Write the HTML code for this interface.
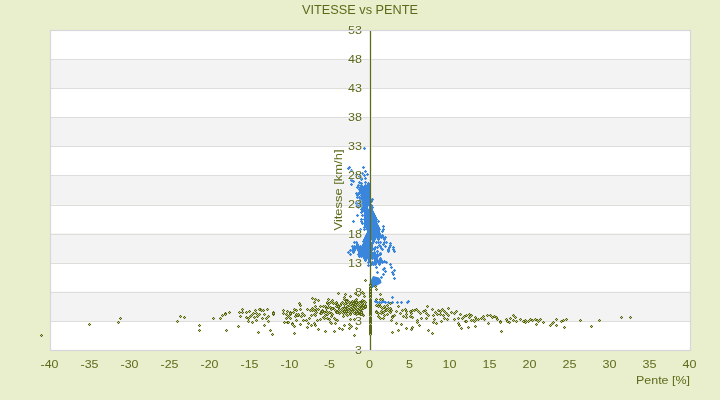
<!DOCTYPE html>
<html><head><meta charset="utf-8"><style>
html,body{margin:0;padding:0;background:#e9efcc;width:720px;height:400px;overflow:hidden}
svg{display:block;will-change:transform}
text{font-family:"Liberation Sans",sans-serif;fill:#5d6a1b}
</style></head><body>
<svg width="720" height="400" viewBox="0 0 720 400">
<defs>
<g id="o"><rect x="-1" y="-1" width="3" height="3" fill="#6b7a2a" opacity="0.16"/><rect x="0" y="-1" width="1" height="3" fill="#56641a"/><rect x="-1" y="0" width="3" height="1" fill="#56641a"/><rect x="0" y="0" width="1" height="1" fill="#bdd06a"/></g>
<g id="b"><rect x="-1" y="-1" width="3" height="3" fill="#3a86dc" opacity="0.18"/><rect x="0" y="-1" width="1" height="3" fill="#3a86dc"/><rect x="-1" y="0" width="3" height="1" fill="#3a86dc"/></g>
</defs>
<rect width="720" height="400" fill="#e9efcc"/>
<rect x="50" y="30.00" width="641" height="29.09" fill="#ffffff"/><rect x="50" y="59.09" width="641" height="29.09" fill="#f3f3f3"/><rect x="50" y="88.18" width="641" height="29.09" fill="#ffffff"/><rect x="50" y="117.27" width="641" height="29.09" fill="#f3f3f3"/><rect x="50" y="146.36" width="641" height="29.09" fill="#ffffff"/><rect x="50" y="175.45" width="641" height="29.09" fill="#f3f3f3"/><rect x="50" y="204.55" width="641" height="29.09" fill="#ffffff"/><rect x="50" y="233.64" width="641" height="29.09" fill="#f3f3f3"/><rect x="50" y="262.73" width="641" height="29.09" fill="#ffffff"/><rect x="50" y="291.82" width="641" height="29.09" fill="#f3f3f3"/><rect x="50" y="320.91" width="641" height="29.09" fill="#ffffff"/><line x1="50" y1="59.5" x2="690" y2="59.5" stroke="#dddddd" stroke-width="1"/><line x1="50" y1="88.5" x2="690" y2="88.5" stroke="#dddddd" stroke-width="1"/><line x1="50" y1="117.5" x2="690" y2="117.5" stroke="#dddddd" stroke-width="1"/><line x1="50" y1="146.5" x2="690" y2="146.5" stroke="#dddddd" stroke-width="1"/><line x1="50" y1="175.5" x2="690" y2="175.5" stroke="#dddddd" stroke-width="1"/><line x1="50" y1="205.5" x2="690" y2="205.5" stroke="#dddddd" stroke-width="1"/><line x1="50" y1="234.5" x2="690" y2="234.5" stroke="#dddddd" stroke-width="1"/><line x1="50" y1="263.5" x2="690" y2="263.5" stroke="#dddddd" stroke-width="1"/><line x1="50" y1="292.5" x2="690" y2="292.5" stroke="#dddddd" stroke-width="1"/><line x1="50" y1="321.5" x2="690" y2="321.5" stroke="#dddddd" stroke-width="1"/>
<g font-size="11px"><text x="49.5" y="368" text-anchor="middle" textLength="17.97" lengthAdjust="spacingAndGlyphs">-40</text><text x="89.5" y="368" text-anchor="middle" textLength="17.97" lengthAdjust="spacingAndGlyphs">-35</text><text x="129.5" y="368" text-anchor="middle" textLength="17.97" lengthAdjust="spacingAndGlyphs">-30</text><text x="169.5" y="368" text-anchor="middle" textLength="17.97" lengthAdjust="spacingAndGlyphs">-25</text><text x="209.5" y="368" text-anchor="middle" textLength="17.97" lengthAdjust="spacingAndGlyphs">-20</text><text x="249.5" y="368" text-anchor="middle" textLength="17.97" lengthAdjust="spacingAndGlyphs">-15</text><text x="289.5" y="368" text-anchor="middle" textLength="17.97" lengthAdjust="spacingAndGlyphs">-10</text><text x="329.5" y="368" text-anchor="middle" textLength="10.97" lengthAdjust="spacingAndGlyphs">-5</text><text x="369.5" y="368" text-anchor="middle" textLength="7.00" lengthAdjust="spacingAndGlyphs">0</text><text x="409.5" y="368" text-anchor="middle" textLength="7.00" lengthAdjust="spacingAndGlyphs">5</text><text x="449.5" y="368" text-anchor="middle" textLength="14.00" lengthAdjust="spacingAndGlyphs">10</text><text x="489.5" y="368" text-anchor="middle" textLength="14.00" lengthAdjust="spacingAndGlyphs">15</text><text x="529.5" y="368" text-anchor="middle" textLength="14.00" lengthAdjust="spacingAndGlyphs">20</text><text x="569.5" y="368" text-anchor="middle" textLength="14.00" lengthAdjust="spacingAndGlyphs">25</text><text x="609.5" y="368" text-anchor="middle" textLength="14.00" lengthAdjust="spacingAndGlyphs">30</text><text x="649.5" y="368" text-anchor="middle" textLength="14.00" lengthAdjust="spacingAndGlyphs">35</text><text x="689.5" y="368" text-anchor="middle" textLength="14.00" lengthAdjust="spacingAndGlyphs">40</text></g>
<line x1="370.5" y1="31" x2="370.5" y2="350" stroke="#ffffff" stroke-opacity="0.6" stroke-width="3.2"/>
<g><polygon points="373,276 379,277.5 381,280 381.5,283 378,285 375,286.5 372.3,287 371,285 371,280" fill="#3a86dc"/><use href="#b" x="368" y="183"/><use href="#b" x="361" y="185"/><use href="#b" x="365" y="185"/><use href="#b" x="367" y="185"/><use href="#b" x="369" y="185"/><use href="#b" x="360" y="187"/><use href="#b" x="362" y="187"/><use href="#b" x="364" y="187"/><use href="#b" x="366" y="187"/><use href="#b" x="368" y="187"/><use href="#b" x="369" y="187"/><use href="#b" x="359" y="189"/><use href="#b" x="361" y="189"/><use href="#b" x="363" y="189"/><use href="#b" x="365" y="189"/><use href="#b" x="367" y="189"/><use href="#b" x="369" y="189"/><use href="#b" x="360" y="191"/><use href="#b" x="362" y="191"/><use href="#b" x="364" y="191"/><use href="#b" x="366" y="191"/><use href="#b" x="368" y="191"/><use href="#b" x="369" y="191"/><use href="#b" x="359" y="193"/><use href="#b" x="361" y="193"/><use href="#b" x="363" y="193"/><use href="#b" x="365" y="193"/><use href="#b" x="367" y="193"/><use href="#b" x="362" y="195"/><use href="#b" x="364" y="195"/><use href="#b" x="366" y="195"/><use href="#b" x="368" y="195"/><use href="#b" x="369" y="195"/><use href="#b" x="357" y="197"/><use href="#b" x="359" y="197"/><use href="#b" x="361" y="197"/><use href="#b" x="363" y="197"/><use href="#b" x="365" y="197"/><use href="#b" x="367" y="197"/><use href="#b" x="369" y="197"/><use href="#b" x="360" y="199"/><use href="#b" x="362" y="199"/><use href="#b" x="364" y="199"/><use href="#b" x="366" y="199"/><use href="#b" x="368" y="199"/><use href="#b" x="370" y="199"/><use href="#b" x="372" y="199"/><use href="#b" x="359" y="201"/><use href="#b" x="361" y="201"/><use href="#b" x="363" y="201"/><use href="#b" x="365" y="201"/><use href="#b" x="367" y="201"/><use href="#b" x="369" y="201"/><use href="#b" x="371" y="201"/><use href="#b" x="356" y="203"/><use href="#b" x="360" y="203"/><use href="#b" x="362" y="203"/><use href="#b" x="364" y="203"/><use href="#b" x="366" y="203"/><use href="#b" x="368" y="203"/><use href="#b" x="359" y="205"/><use href="#b" x="361" y="205"/><use href="#b" x="363" y="205"/><use href="#b" x="365" y="205"/><use href="#b" x="367" y="205"/><use href="#b" x="369" y="205"/><use href="#b" x="371" y="205"/><use href="#b" x="358" y="207"/><use href="#b" x="362" y="207"/><use href="#b" x="364" y="207"/><use href="#b" x="366" y="207"/><use href="#b" x="370" y="207"/><use href="#b" x="372" y="207"/><use href="#b" x="361" y="209"/><use href="#b" x="363" y="209"/><use href="#b" x="365" y="209"/><use href="#b" x="367" y="209"/><use href="#b" x="369" y="209"/><use href="#b" x="371" y="209"/><use href="#b" x="362" y="211"/><use href="#b" x="364" y="211"/><use href="#b" x="366" y="211"/><use href="#b" x="368" y="211"/><use href="#b" x="370" y="211"/><use href="#b" x="372" y="211"/><use href="#b" x="365" y="213"/><use href="#b" x="367" y="213"/><use href="#b" x="369" y="213"/><use href="#b" x="371" y="213"/><use href="#b" x="373" y="213"/><use href="#b" x="362" y="215"/><use href="#b" x="364" y="215"/><use href="#b" x="366" y="215"/><use href="#b" x="368" y="215"/><use href="#b" x="370" y="215"/><use href="#b" x="372" y="215"/><use href="#b" x="374" y="215"/><use href="#b" x="365" y="217"/><use href="#b" x="367" y="217"/><use href="#b" x="369" y="217"/><use href="#b" x="371" y="217"/><use href="#b" x="373" y="217"/><use href="#b" x="375" y="217"/><use href="#b" x="364" y="219"/><use href="#b" x="368" y="219"/><use href="#b" x="370" y="219"/><use href="#b" x="372" y="219"/><use href="#b" x="374" y="219"/><use href="#b" x="376" y="219"/><use href="#b" x="361" y="221"/><use href="#b" x="365" y="221"/><use href="#b" x="367" y="221"/><use href="#b" x="369" y="221"/><use href="#b" x="371" y="221"/><use href="#b" x="373" y="221"/><use href="#b" x="375" y="221"/><use href="#b" x="364" y="223"/><use href="#b" x="366" y="223"/><use href="#b" x="368" y="223"/><use href="#b" x="370" y="223"/><use href="#b" x="372" y="223"/><use href="#b" x="374" y="223"/><use href="#b" x="376" y="223"/><use href="#b" x="365" y="225"/><use href="#b" x="367" y="225"/><use href="#b" x="369" y="225"/><use href="#b" x="371" y="225"/><use href="#b" x="373" y="225"/><use href="#b" x="375" y="225"/><use href="#b" x="377" y="225"/><use href="#b" x="364" y="227"/><use href="#b" x="366" y="227"/><use href="#b" x="368" y="227"/><use href="#b" x="370" y="227"/><use href="#b" x="372" y="227"/><use href="#b" x="374" y="227"/><use href="#b" x="376" y="227"/><use href="#b" x="378" y="227"/><use href="#b" x="367" y="229"/><use href="#b" x="369" y="229"/><use href="#b" x="371" y="229"/><use href="#b" x="373" y="229"/><use href="#b" x="375" y="229"/><use href="#b" x="377" y="229"/><use href="#b" x="379" y="229"/><use href="#b" x="383" y="229"/><use href="#b" x="368" y="231"/><use href="#b" x="370" y="231"/><use href="#b" x="372" y="231"/><use href="#b" x="374" y="231"/><use href="#b" x="376" y="231"/><use href="#b" x="378" y="231"/><use href="#b" x="382" y="231"/><use href="#b" x="367" y="233"/><use href="#b" x="369" y="233"/><use href="#b" x="371" y="233"/><use href="#b" x="373" y="233"/><use href="#b" x="375" y="233"/><use href="#b" x="377" y="233"/><use href="#b" x="379" y="233"/><use href="#b" x="366" y="235"/><use href="#b" x="368" y="235"/><use href="#b" x="370" y="235"/><use href="#b" x="372" y="235"/><use href="#b" x="374" y="235"/><use href="#b" x="376" y="235"/><use href="#b" x="378" y="235"/><use href="#b" x="380" y="235"/><use href="#b" x="382" y="235"/><use href="#b" x="365" y="237"/><use href="#b" x="367" y="237"/><use href="#b" x="369" y="237"/><use href="#b" x="371" y="237"/><use href="#b" x="373" y="237"/><use href="#b" x="375" y="237"/><use href="#b" x="377" y="237"/><use href="#b" x="379" y="237"/><use href="#b" x="381" y="237"/><use href="#b" x="383" y="237"/><use href="#b" x="385" y="237"/><use href="#b" x="364" y="239"/><use href="#b" x="366" y="239"/><use href="#b" x="368" y="239"/><use href="#b" x="370" y="239"/><use href="#b" x="372" y="239"/><use href="#b" x="374" y="239"/><use href="#b" x="378" y="239"/><use href="#b" x="384" y="239"/><use href="#b" x="363" y="241"/><use href="#b" x="365" y="241"/><use href="#b" x="367" y="241"/><use href="#b" x="369" y="241"/><use href="#b" x="373" y="241"/><use href="#b" x="364" y="243"/><use href="#b" x="366" y="243"/><use href="#b" x="368" y="243"/><use href="#b" x="370" y="243"/><use href="#b" x="372" y="243"/><use href="#b" x="363" y="245"/><use href="#b" x="365" y="245"/><use href="#b" x="367" y="245"/><use href="#b" x="369" y="245"/><use href="#b" x="371" y="245"/><use href="#b" x="364" y="247"/><use href="#b" x="366" y="247"/><use href="#b" x="368" y="247"/><use href="#b" x="370" y="247"/><use href="#b" x="365" y="249"/><use href="#b" x="367" y="249"/><use href="#b" x="369" y="249"/><use href="#b" x="371" y="249"/><use href="#b" x="364" y="251"/><use href="#b" x="366" y="251"/><use href="#b" x="368" y="251"/><use href="#b" x="370" y="251"/><use href="#b" x="365" y="253"/><use href="#b" x="367" y="253"/><use href="#b" x="369" y="253"/><use href="#b" x="373" y="253"/><use href="#b" x="364" y="255"/><use href="#b" x="366" y="255"/><use href="#b" x="368" y="255"/><use href="#b" x="370" y="255"/><use href="#b" x="367" y="257"/><use href="#b" x="369" y="257"/><use href="#b" x="354" y="242"/><use href="#b" x="356" y="242"/><use href="#b" x="364" y="242"/><use href="#b" x="357" y="244"/><use href="#b" x="363" y="244"/><use href="#b" x="365" y="244"/><use href="#b" x="371" y="244"/><use href="#b" x="352" y="246"/><use href="#b" x="354" y="246"/><use href="#b" x="356" y="246"/><use href="#b" x="358" y="246"/><use href="#b" x="360" y="246"/><use href="#b" x="362" y="246"/><use href="#b" x="364" y="246"/><use href="#b" x="366" y="246"/><use href="#b" x="368" y="246"/><use href="#b" x="370" y="246"/><use href="#b" x="353" y="248"/><use href="#b" x="355" y="248"/><use href="#b" x="357" y="248"/><use href="#b" x="359" y="248"/><use href="#b" x="361" y="248"/><use href="#b" x="363" y="248"/><use href="#b" x="365" y="248"/><use href="#b" x="367" y="248"/><use href="#b" x="369" y="248"/><use href="#b" x="350" y="250"/><use href="#b" x="352" y="250"/><use href="#b" x="354" y="250"/><use href="#b" x="358" y="250"/><use href="#b" x="360" y="250"/><use href="#b" x="362" y="250"/><use href="#b" x="364" y="250"/><use href="#b" x="366" y="250"/><use href="#b" x="368" y="250"/><use href="#b" x="353" y="252"/><use href="#b" x="359" y="252"/><use href="#b" x="361" y="252"/><use href="#b" x="363" y="252"/><use href="#b" x="365" y="252"/><use href="#b" x="367" y="252"/><use href="#b" x="358" y="254"/><use href="#b" x="360" y="254"/><use href="#b" x="362" y="254"/><use href="#b" x="364" y="254"/><use href="#b" x="366" y="254"/><use href="#b" x="368" y="254"/><use href="#b" x="370" y="254"/><use href="#b" x="359" y="256"/><use href="#b" x="361" y="256"/><use href="#b" x="363" y="256"/><use href="#b" x="365" y="256"/><use href="#b" x="364" y="258"/><use href="#b" x="366" y="258"/><use href="#b" x="368" y="258"/><use href="#b" x="365" y="260"/><use href="#b" x="369" y="260"/><use href="#b" x="368" y="262"/><use href="#b" x="372" y="262"/><use href="#b" x="371" y="264"/><use href="#b" x="372" y="254"/><use href="#b" x="374" y="254"/><use href="#b" x="380" y="254"/><use href="#b" x="371" y="256"/><use href="#b" x="373" y="256"/><use href="#b" x="375" y="256"/><use href="#b" x="377" y="256"/><use href="#b" x="370" y="258"/><use href="#b" x="372" y="258"/><use href="#b" x="374" y="258"/><use href="#b" x="376" y="258"/><use href="#b" x="380" y="258"/><use href="#b" x="369" y="260"/><use href="#b" x="375" y="260"/><use href="#b" x="377" y="260"/><use href="#b" x="379" y="260"/><use href="#b" x="381" y="260"/><use href="#b" x="370" y="262"/><use href="#b" x="372" y="262"/><use href="#b" x="374" y="262"/><use href="#b" x="376" y="262"/><use href="#b" x="378" y="262"/><use href="#b" x="380" y="262"/><use href="#b" x="382" y="262"/><use href="#b" x="371" y="264"/><use href="#b" x="373" y="264"/><use href="#b" x="375" y="264"/><use href="#b" x="379" y="264"/><use href="#b" x="375" y="301"/><use href="#b" x="377" y="302"/><use href="#b" x="379" y="302"/><use href="#b" x="381" y="302"/><use href="#b" x="383" y="301"/><use href="#b" x="385" y="302"/><use href="#b" x="388" y="302"/><use href="#b" x="392" y="297"/><use href="#b" x="392" y="302"/><use href="#b" x="397" y="302"/><use href="#b" x="401" y="302"/><use href="#b" x="407" y="302"/><use href="#b" x="408" y="301"/><use href="#b" x="364" y="148"/><use href="#b" x="348" y="168"/><use href="#b" x="349" y="167"/><use href="#b" x="363" y="167"/><use href="#b" x="351" y="170"/><use href="#b" x="365" y="171"/><use href="#b" x="367" y="174"/><use href="#b" x="362" y="173"/><use href="#b" x="364" y="175"/><use href="#b" x="356" y="174"/><use href="#b" x="359" y="176"/><use href="#b" x="365" y="178"/><use href="#b" x="361" y="178"/><use href="#b" x="351" y="179"/><use href="#b" x="361" y="179"/><use href="#b" x="351" y="180"/><use href="#b" x="353" y="181"/><use href="#b" x="359" y="182"/><use href="#b" x="361" y="183"/><use href="#b" x="365" y="182"/><use href="#b" x="351" y="184"/><use href="#b" x="358" y="185"/><use href="#b" x="357" y="187"/><use href="#b" x="359" y="189"/><use href="#b" x="363" y="187"/><use href="#b" x="365" y="186"/><use href="#b" x="367" y="187"/><use href="#b" x="369" y="188"/><use href="#b" x="362" y="189"/><use href="#b" x="366" y="189"/><use href="#b" x="360" y="191"/><use href="#b" x="364" y="191"/><use href="#b" x="368" y="191"/><use href="#b" x="356" y="193"/><use href="#b" x="358" y="193"/><use href="#b" x="362" y="192"/><use href="#b" x="366" y="193"/><use href="#b" x="369" y="193"/><use href="#b" x="357" y="195"/><use href="#b" x="361" y="195"/><use href="#b" x="364" y="195"/><use href="#b" x="368" y="195"/><use href="#b" x="361" y="212"/><use href="#b" x="357" y="215"/><use href="#b" x="353" y="221"/><use href="#b" x="361" y="219"/><use href="#b" x="362" y="223"/><use href="#b" x="366" y="219"/><use href="#b" x="378" y="221"/><use href="#b" x="360" y="229"/><use href="#b" x="364" y="229"/><use href="#b" x="383" y="226"/><use href="#b" x="356" y="202"/><use href="#b" x="357" y="205"/><use href="#b" x="371" y="243"/><use href="#b" x="373" y="241"/><use href="#b" x="376" y="242"/><use href="#b" x="378" y="242"/><use href="#b" x="380" y="242"/><use href="#b" x="384" y="242"/><use href="#b" x="386" y="242"/><use href="#b" x="383" y="244"/><use href="#b" x="385" y="246"/><use href="#b" x="390" y="243"/><use href="#b" x="390" y="245"/><use href="#b" x="389" y="247"/><use href="#b" x="388" y="249"/><use href="#b" x="388" y="251"/><use href="#b" x="393" y="247"/><use href="#b" x="393" y="249"/><use href="#b" x="394" y="251"/><use href="#b" x="372" y="248"/><use href="#b" x="375" y="247"/><use href="#b" x="377" y="247"/><use href="#b" x="374" y="249"/><use href="#b" x="380" y="246"/><use href="#b" x="381" y="248"/><use href="#b" x="379" y="245"/><use href="#b" x="382" y="249"/><use href="#b" x="377" y="251"/><use href="#b" x="380" y="253"/><use href="#b" x="374" y="253"/><use href="#b" x="375" y="255"/><use href="#b" x="378" y="255"/><use href="#b" x="371" y="250"/><use href="#b" x="371" y="246"/><use href="#b" x="371" y="252"/><use href="#b" x="348" y="252"/><use href="#b" x="350" y="254"/><use href="#b" x="374" y="252"/><use href="#b" x="377" y="251"/><use href="#b" x="380" y="253"/><use href="#b" x="377" y="254"/><use href="#b" x="388" y="250"/><use href="#b" x="368" y="265"/><use href="#b" x="376" y="267"/><use href="#b" x="377" y="272"/><use href="#b" x="383" y="274"/><use href="#b" x="381" y="277"/><use href="#b" x="384" y="268"/><use href="#b" x="385" y="271"/><use href="#b" x="383" y="269"/><use href="#b" x="390" y="264"/><use href="#b" x="391" y="267"/><use href="#b" x="394" y="270"/><use href="#b" x="392" y="272"/><use href="#b" x="393" y="274"/><use href="#b" x="394" y="278"/><use href="#b" x="384" y="261"/><use href="#b" x="386" y="262"/><use href="#b" x="372" y="286"/></g>
<g font-size="11px" stroke="#ffffff" stroke-opacity="0.4" stroke-width="1.8" paint-order="stroke" stroke-linejoin="round"><text x="362" y="33.90" text-anchor="end" textLength="14.00" lengthAdjust="spacingAndGlyphs">53</text><text x="362" y="62.99" text-anchor="end" textLength="14.00" lengthAdjust="spacingAndGlyphs">48</text><text x="362" y="92.08" text-anchor="end" textLength="14.00" lengthAdjust="spacingAndGlyphs">43</text><text x="362" y="121.17" text-anchor="end" textLength="14.00" lengthAdjust="spacingAndGlyphs">38</text><text x="362" y="150.26" text-anchor="end" textLength="14.00" lengthAdjust="spacingAndGlyphs">33</text><text x="362" y="179.35" text-anchor="end" textLength="14.00" lengthAdjust="spacingAndGlyphs">28</text><text x="362" y="208.45" text-anchor="end" textLength="14.00" lengthAdjust="spacingAndGlyphs">23</text><text x="362" y="237.54" text-anchor="end" textLength="14.00" lengthAdjust="spacingAndGlyphs">18</text><text x="362" y="266.63" text-anchor="end" textLength="14.00" lengthAdjust="spacingAndGlyphs">13</text><text x="362" y="295.72" text-anchor="end" textLength="7.00" lengthAdjust="spacingAndGlyphs">8</text><text x="362" y="324.81" text-anchor="end" textLength="7.00" lengthAdjust="spacingAndGlyphs">3</text><text x="362" y="353.90" text-anchor="end" textLength="7.00" lengthAdjust="spacingAndGlyphs">3</text></g>
<rect x="50.5" y="30.5" width="640" height="320" fill="none" stroke="#d6d6dc" stroke-width="1.2"/>
<line x1="370.5" y1="31" x2="370.5" y2="350" stroke="#5f6b1c" stroke-width="1.3"/>
<g><use href="#o" x="41" y="335"/><use href="#o" x="89" y="324"/><use href="#o" x="118" y="322"/><use href="#o" x="120" y="318"/><use href="#o" x="180" y="316"/><use href="#o" x="184" y="317"/><use href="#o" x="177" y="321"/><use href="#o" x="199" y="325"/><use href="#o" x="199" y="330"/><use href="#o" x="213" y="318"/><use href="#o" x="220" y="318"/><use href="#o" x="222" y="315"/><use href="#o" x="225" y="313"/><use href="#o" x="225" y="314"/><use href="#o" x="229" y="312"/><use href="#o" x="226" y="330"/><use href="#o" x="238" y="326"/><use href="#o" x="239" y="312"/><use href="#o" x="242" y="309"/><use href="#o" x="242" y="312"/><use href="#o" x="240" y="316"/><use href="#o" x="246" y="312"/><use href="#o" x="249" y="311"/><use href="#o" x="246" y="317"/><use href="#o" x="248" y="318"/><use href="#o" x="248" y="321"/><use href="#o" x="250" y="316"/><use href="#o" x="255" y="310"/><use href="#o" x="260" y="309"/><use href="#o" x="263" y="310"/><use href="#o" x="267" y="309"/><use href="#o" x="253" y="313"/><use href="#o" x="256" y="313"/><use href="#o" x="259" y="314"/><use href="#o" x="264" y="314"/><use href="#o" x="257" y="316"/><use href="#o" x="254" y="317"/><use href="#o" x="268" y="316"/><use href="#o" x="266" y="318"/><use href="#o" x="262" y="318"/><use href="#o" x="256" y="320"/><use href="#o" x="252" y="322"/><use href="#o" x="268" y="321"/><use href="#o" x="264" y="325"/><use href="#o" x="270" y="330"/><use href="#o" x="258" y="332"/><use href="#o" x="272" y="334"/><use href="#o" x="273" y="312"/><use href="#o" x="273" y="314"/><use href="#o" x="283" y="310"/><use href="#o" x="287" y="311"/><use href="#o" x="283" y="313"/><use href="#o" x="286" y="314"/><use href="#o" x="290" y="312"/><use href="#o" x="290" y="314"/><use href="#o" x="288" y="316"/><use href="#o" x="286" y="318"/><use href="#o" x="290" y="318"/><use href="#o" x="284" y="322"/><use href="#o" x="287" y="322"/><use href="#o" x="292" y="323"/><use href="#o" x="294" y="326"/><use href="#o" x="294" y="333"/><use href="#o" x="294" y="309"/><use href="#o" x="296" y="310"/><use href="#o" x="299" y="303"/><use href="#o" x="300" y="305"/><use href="#o" x="300" y="309"/><use href="#o" x="293" y="312"/><use href="#o" x="296" y="314"/><use href="#o" x="298" y="315"/><use href="#o" x="295" y="316"/><use href="#o" x="302" y="313"/><use href="#o" x="304" y="315"/><use href="#o" x="301" y="316"/><use href="#o" x="296" y="320"/><use href="#o" x="303" y="320"/><use href="#o" x="300" y="324"/><use href="#o" x="306" y="320"/><use href="#o" x="312" y="298"/><use href="#o" x="315" y="299"/><use href="#o" x="318" y="300"/><use href="#o" x="314" y="302"/><use href="#o" x="307" y="309"/><use href="#o" x="310" y="310"/><use href="#o" x="312" y="308"/><use href="#o" x="315" y="306"/><use href="#o" x="314" y="310"/><use href="#o" x="316" y="309"/><use href="#o" x="320" y="306"/><use href="#o" x="318" y="309"/><use href="#o" x="321" y="311"/><use href="#o" x="316" y="312"/><use href="#o" x="320" y="313"/><use href="#o" x="314" y="314"/><use href="#o" x="311" y="315"/><use href="#o" x="309" y="318"/><use href="#o" x="315" y="315"/><use href="#o" x="320" y="319"/><use href="#o" x="317" y="320"/><use href="#o" x="308" y="323"/><use href="#o" x="311" y="325"/><use href="#o" x="314" y="323"/><use href="#o" x="315" y="325"/><use href="#o" x="307" y="327"/><use href="#o" x="318" y="329"/><use href="#o" x="259" y="309"/><use href="#o" x="261" y="310"/><use href="#o" x="273" y="313"/><use href="#o" x="290" y="313"/><use href="#o" x="288" y="322"/><use href="#o" x="292" y="324"/><use href="#o" x="297" y="315"/><use href="#o" x="298" y="314"/><use href="#o" x="312" y="310"/><use href="#o" x="313" y="309"/><use href="#o" x="321" y="313"/><use href="#o" x="251" y="315"/><use href="#o" x="338" y="293"/><use href="#o" x="345" y="294"/><use href="#o" x="355" y="293"/><use href="#o" x="350" y="296"/><use href="#o" x="344" y="297"/><use href="#o" x="328" y="299"/><use href="#o" x="344" y="299"/><use href="#o" x="332" y="300"/><use href="#o" x="347" y="300"/><use href="#o" x="330" y="302"/><use href="#o" x="336" y="302"/><use href="#o" x="342" y="302"/><use href="#o" x="352" y="301"/><use href="#o" x="355" y="301"/><use href="#o" x="356" y="299"/><use href="#o" x="327" y="303"/><use href="#o" x="328" y="304"/><use href="#o" x="337" y="304"/><use href="#o" x="340" y="305"/><use href="#o" x="346" y="303"/><use href="#o" x="349" y="302"/><use href="#o" x="351" y="303"/><use href="#o" x="353" y="303"/><use href="#o" x="356" y="303"/><use href="#o" x="344" y="304"/><use href="#o" x="349" y="305"/><use href="#o" x="323" y="306"/><use href="#o" x="336" y="306"/><use href="#o" x="347" y="306"/><use href="#o" x="354" y="306"/><use href="#o" x="356" y="305"/><use href="#o" x="326" y="308"/><use href="#o" x="328" y="307"/><use href="#o" x="333" y="308"/><use href="#o" x="331" y="309"/><use href="#o" x="338" y="307"/><use href="#o" x="339" y="309"/><use href="#o" x="344" y="307"/><use href="#o" x="346" y="308"/><use href="#o" x="348" y="309"/><use href="#o" x="350" y="308"/><use href="#o" x="352" y="307"/><use href="#o" x="354" y="309"/><use href="#o" x="356" y="308"/><use href="#o" x="322" y="310"/><use href="#o" x="326" y="311"/><use href="#o" x="335" y="310"/><use href="#o" x="337" y="311"/><use href="#o" x="342" y="310"/><use href="#o" x="344" y="311"/><use href="#o" x="346" y="310"/><use href="#o" x="350" y="311"/><use href="#o" x="352" y="310"/><use href="#o" x="356" y="311"/><use href="#o" x="342" y="308"/><use href="#o" x="335" y="303"/><use href="#o" x="324" y="312"/><use href="#o" x="329" y="312"/><use href="#o" x="336" y="312"/><use href="#o" x="339" y="313"/><use href="#o" x="343" y="313"/><use href="#o" x="346" y="312"/><use href="#o" x="350" y="313"/><use href="#o" x="356" y="314"/><use href="#o" x="327" y="314"/><use href="#o" x="325" y="315"/><use href="#o" x="332" y="314"/><use href="#o" x="331" y="316"/><use href="#o" x="346" y="314"/><use href="#o" x="347" y="315"/><use href="#o" x="343" y="316"/><use href="#o" x="323" y="317"/><use href="#o" x="324" y="318"/><use href="#o" x="327" y="318"/><use href="#o" x="329" y="319"/><use href="#o" x="334" y="318"/><use href="#o" x="335" y="319"/><use href="#o" x="337" y="320"/><use href="#o" x="350" y="319"/><use href="#o" x="354" y="319"/><use href="#o" x="330" y="322"/><use href="#o" x="331" y="323"/><use href="#o" x="335" y="323"/><use href="#o" x="344" y="325"/><use href="#o" x="349" y="324"/><use href="#o" x="351" y="326"/><use href="#o" x="339" y="328"/><use href="#o" x="342" y="329"/><use href="#o" x="349" y="328"/><use href="#o" x="356" y="328"/><use href="#o" x="325" y="331"/><use href="#o" x="334" y="331"/><use href="#o" x="354" y="335"/><use href="#o" x="392" y="332"/><use href="#o" x="363" y="293"/><use href="#o" x="364" y="296"/><use href="#o" x="359" y="302"/><use href="#o" x="361" y="301"/><use href="#o" x="364" y="301"/><use href="#o" x="365" y="302"/><use href="#o" x="362" y="303"/><use href="#o" x="361" y="304"/><use href="#o" x="363" y="305"/><use href="#o" x="365" y="305"/><use href="#o" x="359" y="306"/><use href="#o" x="361" y="306"/><use href="#o" x="364" y="307"/><use href="#o" x="362" y="308"/><use href="#o" x="365" y="307"/><use href="#o" x="360" y="309"/><use href="#o" x="358" y="310"/><use href="#o" x="361" y="311"/><use href="#o" x="370" y="293"/><use href="#o" x="370" y="295"/><use href="#o" x="370" y="297"/><use href="#o" x="380" y="294"/><use href="#o" x="376" y="299"/><use href="#o" x="380" y="299"/><use href="#o" x="382" y="299"/><use href="#o" x="376" y="305"/><use href="#o" x="378" y="306"/><use href="#o" x="380" y="306"/><use href="#o" x="379" y="304"/><use href="#o" x="382" y="308"/><use href="#o" x="384" y="306"/><use href="#o" x="387" y="305"/><use href="#o" x="390" y="303"/><use href="#o" x="385" y="308"/><use href="#o" x="388" y="308"/><use href="#o" x="390" y="308"/><use href="#o" x="386" y="310"/><use href="#o" x="381" y="311"/><use href="#o" x="384" y="311"/><use href="#o" x="376" y="311"/><use href="#o" x="389" y="311"/><use href="#o" x="391" y="310"/><use href="#o" x="370" y="299"/><use href="#o" x="370" y="300"/><use href="#o" x="370" y="301"/><use href="#o" x="370" y="302"/><use href="#o" x="370" y="303"/><use href="#o" x="370" y="304"/><use href="#o" x="370" y="305"/><use href="#o" x="370" y="306"/><use href="#o" x="370" y="307"/><use href="#o" x="370" y="308"/><use href="#o" x="370" y="309"/><use href="#o" x="370" y="310"/><use href="#o" x="370" y="311"/><use href="#o" x="370" y="312"/><use href="#o" x="359" y="313"/><use href="#o" x="361" y="312"/><use href="#o" x="360" y="314"/><use href="#o" x="363" y="315"/><use href="#o" x="376" y="312"/><use href="#o" x="378" y="313"/><use href="#o" x="381" y="313"/><use href="#o" x="383" y="312"/><use href="#o" x="387" y="314"/><use href="#o" x="384" y="315"/><use href="#o" x="390" y="312"/><use href="#o" x="378" y="316"/><use href="#o" x="379" y="317"/><use href="#o" x="380" y="318"/><use href="#o" x="383" y="318"/><use href="#o" x="392" y="316"/><use href="#o" x="392" y="317"/><use href="#o" x="391" y="320"/><use href="#o" x="370" y="313"/><use href="#o" x="370" y="314"/><use href="#o" x="370" y="315"/><use href="#o" x="370" y="317"/><use href="#o" x="370" y="318"/><use href="#o" x="370" y="319"/><use href="#o" x="370" y="320"/><use href="#o" x="370" y="321"/><use href="#o" x="370" y="322"/><use href="#o" x="370" y="323"/><use href="#o" x="370" y="325"/><use href="#o" x="370" y="326"/><use href="#o" x="370" y="327"/><use href="#o" x="370" y="328"/><use href="#o" x="370" y="329"/><use href="#o" x="370" y="330"/><use href="#o" x="370" y="331"/><use href="#o" x="370" y="332"/><use href="#o" x="370" y="333"/><use href="#o" x="370" y="334"/><use href="#o" x="398" y="306"/><use href="#o" x="396" y="311"/><use href="#o" x="394" y="315"/><use href="#o" x="400" y="313"/><use href="#o" x="402" y="310"/><use href="#o" x="405" y="309"/><use href="#o" x="406" y="311"/><use href="#o" x="406" y="314"/><use href="#o" x="403" y="316"/><use href="#o" x="406" y="317"/><use href="#o" x="410" y="311"/><use href="#o" x="412" y="310"/><use href="#o" x="414" y="310"/><use href="#o" x="416" y="309"/><use href="#o" x="418" y="311"/><use href="#o" x="420" y="313"/><use href="#o" x="411" y="313"/><use href="#o" x="410" y="316"/><use href="#o" x="412" y="317"/><use href="#o" x="421" y="318"/><use href="#o" x="417" y="320"/><use href="#o" x="417" y="322"/><use href="#o" x="419" y="325"/><use href="#o" x="396" y="323"/><use href="#o" x="401" y="324"/><use href="#o" x="406" y="328"/><use href="#o" x="398" y="330"/><use href="#o" x="412" y="327"/><use href="#o" x="411" y="329"/><use href="#o" x="427" y="306"/><use href="#o" x="423" y="311"/><use href="#o" x="425" y="310"/><use href="#o" x="426" y="313"/><use href="#o" x="428" y="315"/><use href="#o" x="426" y="318"/><use href="#o" x="428" y="330"/><use href="#o" x="432" y="309"/><use href="#o" x="433" y="315"/><use href="#o" x="435" y="312"/><use href="#o" x="438" y="310"/><use href="#o" x="440" y="311"/><use href="#o" x="437" y="314"/><use href="#o" x="442" y="309"/><use href="#o" x="444" y="311"/><use href="#o" x="440" y="314"/><use href="#o" x="443" y="315"/><use href="#o" x="446" y="313"/><use href="#o" x="448" y="315"/><use href="#o" x="444" y="318"/><use href="#o" x="447" y="319"/><use href="#o" x="434" y="319"/><use href="#o" x="433" y="322"/><use href="#o" x="436" y="323"/><use href="#o" x="441" y="321"/><use href="#o" x="448" y="308"/><use href="#o" x="451" y="312"/><use href="#o" x="454" y="313"/><use href="#o" x="456" y="311"/><use href="#o" x="460" y="314"/><use href="#o" x="454" y="319"/><use href="#o" x="458" y="318"/><use href="#o" x="462" y="318"/><use href="#o" x="464" y="316"/><use href="#o" x="465" y="321"/><use href="#o" x="458" y="323"/><use href="#o" x="459" y="325"/><use href="#o" x="461" y="328"/><use href="#o" x="466" y="315"/><use href="#o" x="469" y="314"/><use href="#o" x="471" y="315"/><use href="#o" x="469" y="317"/><use href="#o" x="466" y="321"/><use href="#o" x="471" y="320"/><use href="#o" x="475" y="317"/><use href="#o" x="473" y="320"/><use href="#o" x="476" y="319"/><use href="#o" x="474" y="321"/><use href="#o" x="478" y="319"/><use href="#o" x="481" y="318"/><use href="#o" x="483" y="316"/><use href="#o" x="484" y="319"/><use href="#o" x="487" y="315"/><use href="#o" x="490" y="315"/><use href="#o" x="492" y="317"/><use href="#o" x="494" y="316"/><use href="#o" x="496" y="317"/><use href="#o" x="497" y="319"/><use href="#o" x="500" y="321"/><use href="#o" x="500" y="322"/><use href="#o" x="488" y="323"/><use href="#o" x="468" y="327"/><use href="#o" x="475" y="326"/><use href="#o" x="501" y="331"/><use href="#o" x="506" y="319"/><use href="#o" x="510" y="318"/><use href="#o" x="507" y="321"/><use href="#o" x="509" y="322"/><use href="#o" x="513" y="315"/><use href="#o" x="515" y="317"/><use href="#o" x="513" y="320"/><use href="#o" x="516" y="321"/><use href="#o" x="520" y="319"/><use href="#o" x="523" y="321"/><use href="#o" x="525" y="322"/><use href="#o" x="525" y="320"/><use href="#o" x="528" y="321"/><use href="#o" x="530" y="319"/><use href="#o" x="532" y="320"/><use href="#o" x="535" y="319"/><use href="#o" x="537" y="320"/><use href="#o" x="536" y="324"/><use href="#o" x="540" y="319"/><use href="#o" x="538" y="321"/><use href="#o" x="543" y="322"/><use href="#o" x="550" y="325"/><use href="#o" x="552" y="323"/><use href="#o" x="553" y="322"/><use href="#o" x="556" y="319"/><use href="#o" x="556" y="325"/><use href="#o" x="561" y="321"/><use href="#o" x="563" y="320"/><use href="#o" x="566" y="319"/><use href="#o" x="564" y="327"/><use href="#o" x="580" y="320"/><use href="#o" x="591" y="326"/><use href="#o" x="599" y="320"/><use href="#o" x="621" y="317"/><use href="#o" x="630" y="317"/><use href="#o" x="370" y="287"/><use href="#o" x="370" y="289"/><use href="#o" x="370" y="290"/><use href="#o" x="370" y="292"/><use href="#o" x="365" y="280"/><use href="#o" x="375" y="286"/><use href="#o" x="376" y="289"/><use href="#o" x="362" y="292"/><use href="#o" x="432" y="333"/><use href="#o" x="358" y="295"/><use href="#o" x="370" y="284"/><use href="#o" x="370" y="285"/><use href="#o" x="370" y="287"/><use href="#o" x="370" y="288"/><use href="#o" x="370" y="290"/><use href="#o" x="370" y="291"/><use href="#o" x="370" y="293"/><use href="#o" x="370" y="294"/><use href="#o" x="370" y="296"/><use href="#o" x="370" y="297"/><use href="#o" x="344" y="308"/><use href="#o" x="348" y="309"/><use href="#o" x="355" y="301"/><use href="#o" x="338" y="312"/><use href="#o" x="345" y="303"/><use href="#o" x="365" y="307"/><use href="#o" x="361" y="307"/><use href="#o" x="355" y="302"/><use href="#o" x="355" y="313"/><use href="#o" x="352" y="311"/><use href="#o" x="356" y="301"/><use href="#o" x="359" y="308"/><use href="#o" x="346" y="300"/><use href="#o" x="362" y="307"/><use href="#o" x="358" y="313"/><use href="#o" x="358" y="313"/><use href="#o" x="349" y="312"/><use href="#o" x="350" y="314"/><use href="#o" x="362" y="301"/><use href="#o" x="341" y="303"/><use href="#o" x="365" y="306"/><use href="#o" x="355" y="304"/><use href="#o" x="352" y="305"/><use href="#o" x="347" y="308"/><use href="#o" x="354" y="313"/><use href="#o" x="357" y="313"/><use href="#o" x="362" y="314"/><use href="#o" x="356" y="302"/><use href="#o" x="362" y="314"/><use href="#o" x="363" y="308"/><use href="#o" x="358" y="303"/><use href="#o" x="361" y="308"/><use href="#o" x="346" y="301"/><use href="#o" x="361" y="314"/><use href="#o" x="340" y="312"/><use href="#o" x="349" y="302"/><use href="#o" x="346" y="311"/><use href="#o" x="362" y="300"/><use href="#o" x="355" y="300"/><use href="#o" x="358" y="305"/><use href="#o" x="337" y="312"/><use href="#o" x="331" y="313"/><use href="#o" x="327" y="302"/><use href="#o" x="332" y="302"/><use href="#o" x="325" y="306"/><use href="#o" x="333" y="303"/><use href="#o" x="322" y="311"/><use href="#o" x="327" y="312"/><use href="#o" x="338" y="306"/><use href="#o" x="330" y="307"/><use href="#o" x="333" y="308"/><use href="#o" x="332" y="308"/></g>
<text x="302" y="14.3" font-size="13px" textLength="116" lengthAdjust="spacingAndGlyphs">VITESSE vs PENTE</text>
<text x="636" y="384" font-size="11px" textLength="54" lengthAdjust="spacingAndGlyphs">Pente [%]</text>
<text transform="translate(342,230.5) rotate(-90)" font-size="11px" textLength="81" lengthAdjust="spacingAndGlyphs">Vitesse [km/h]</text>
</svg>
</body></html>
